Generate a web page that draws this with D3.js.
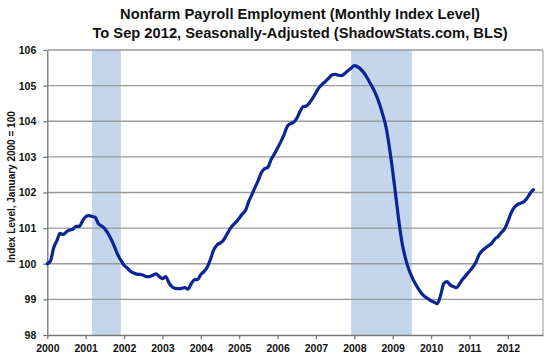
<!DOCTYPE html>
<html>
<head>
  <meta charset="utf-8">
  <script src="https://d3js.org/d3.v7.min.js"></script>
  <style>
    body { margin: 0; background: #fff; }
    text { font-family: "Liberation Sans", Arial, sans-serif; font-weight: bold; }
  </style>
</head>
<body>
  <div id="my_dataviz"></div>
  <script>
    // Monthly index, Jan 2000 .. Sep 2012 (Jan 2000 = 100)
    var values = [
      100.00, 100.08, 100.45, 100.65, 100.85, 100.82, 100.90, 100.95, 100.97, 101.05, 101.05, 101.20,
      101.32, 101.35, 101.33, 101.30, 101.12, 101.06, 100.98, 100.85, 100.68, 100.48, 100.26, 100.10,
      99.96, 99.88, 99.79, 99.74, 99.71, 99.70, 99.68, 99.64, 99.64, 99.68, 99.72, 99.64,
      99.58, 99.64, 99.47, 99.35, 99.31, 99.30, 99.31, 99.33, 99.29, 99.44, 99.55, 99.56,
      99.70, 99.78, 99.90, 100.12, 100.38, 100.52, 100.58, 100.65, 100.80, 100.96, 101.08, 101.17,
      101.28, 101.40, 101.50, 101.75, 101.95, 102.15, 102.35, 102.57, 102.67, 102.71, 102.93, 103.08,
      103.25, 103.42, 103.62, 103.85, 103.93, 103.97, 104.08, 104.27, 104.41, 104.43, 104.52, 104.65,
      104.80, 104.95, 105.04, 105.12, 105.21, 105.30, 105.32, 105.29, 105.28, 105.34, 105.42, 105.49,
      105.56, 105.53, 105.46, 105.36, 105.22, 105.06, 104.90, 104.70, 104.45, 104.15, 103.80, 103.25,
      102.60, 101.88, 101.15, 100.55, 100.15, 99.85, 99.63, 99.45, 99.30, 99.17, 99.08, 99.02,
      98.96, 98.92, 98.88, 99.12, 99.45, 99.50, 99.40, 99.36, 99.33, 99.45, 99.58, 99.68,
      99.79, 99.90, 100.04, 100.25, 100.37, 100.44, 100.51, 100.58, 100.70, 100.77, 100.88, 100.98,
      101.18, 101.42, 101.58, 101.66, 101.70, 101.74, 101.84, 101.98, 102.08
    ];
    var startYear = 2000;
    var years = [2000, 2001, 2002, 2003, 2004, 2005, 2006, 2007, 2008, 2009, 2010, 2011, 2012];
    var yTicks = [98, 99, 100, 101, 102, 103, 104, 105, 106];
    // recessions as [first month, month after last], months since Jan 2000
    var recessionStart = [14, 95];
    var recessionEnd = [23, 114];
    var titleLines = [
      "Nonfarm Payroll Employment (Monthly Index Level)",
      "To Sep 2012, Seasonally-Adjusted (ShadowStats.com, BLS)"
    ];
    var yLabel = "Index Level, January 2000 = 100";

    var W = 552, H = 359;
    var margin = { top: 50, right: 9, bottom: 24, left: 47.3 };
    var width = W - margin.left - margin.right,
        height = H - margin.top - margin.bottom;

    var root = d3.select("#my_dataviz").append("svg")
      .attr("width", W).attr("height", H);

    // Title
    root.selectAll(".title").data(titleLines).enter().append("text")
      .attr("x", 300)
      .attr("y", function(d, i) { return 18.5 + i * 19; })
      .style("text-anchor", "middle")
      .style("font-size", "14.7px")
      .style("fill", "#111")
      .text(function(d) { return d; });

    var svg = root.append("g")
      .attr("transform", "translate(" + margin.left + "," + margin.top + ")");

    var x = d3.scaleLinear().domain([0, 155]).range([0, width]);
    var y = d3.scaleLinear().domain([98, 106]).range([height, 0]);

    // Recession bars
    svg.selectAll(".rec").data(recessionStart).enter().append("rect")
      .attr("x", function(d) { return x(d); })
      .attr("width", function(d, i) { return x(recessionEnd[i]) - x(d); })
      .attr("y", 0)
      .attr("height", height)
      .style("fill", "#c4d6eb");

    // Gridlines
    svg.append("g").selectAll("line").data(yTicks.slice(1)).enter().append("line")
      .attr("x1", 0).attr("x2", width)
      .attr("y1", function(d) { return y(d); })
      .attr("y2", function(d) { return y(d); })
      .style("stroke", "#9a9a9a")
      .style("stroke-width", 1.3);

    // right border
    svg.append("line")
      .attr("x1", width).attr("x2", width).attr("y1", 0).attr("y2", height)
      .style("stroke", "#b0b0b0").style("stroke-width", 1.3);

    // X axis
    var xAxis = svg.append("g")
      .attr("transform", "translate(0," + height + ")")
      .call(d3.axisBottom(x)
        .tickValues(years.map(function(d) { return (d - startYear) * 12; }))
        .tickFormat(function(d) { return startYear + d / 12; })
        .tickSizeInner(4).tickSizeOuter(0).tickPadding(6));
    xAxis.selectAll("text").style("font-size", "10.5px").style("fill", "#111");
    xAxis.selectAll("line, path").style("stroke", "#777").style("stroke-width", 1.3);

    // Y axis
    var yAxis = svg.append("g")
      .call(d3.axisLeft(y).tickValues(yTicks).tickFormat(d3.format("d"))
        .tickSizeInner(4).tickSizeOuter(0).tickPadding(7));
    yAxis.selectAll("text").style("font-size", "10.5px").style("fill", "#111");
    yAxis.selectAll("line, path").style("stroke", "#777").style("stroke-width", 1.3);

    // Y label
    root.append("text")
      .attr("transform", "translate(14.5," + 187 + ") rotate(-90)")
      .style("text-anchor", "middle")
      .style("font-size", "10px")
      .style("fill", "#111")
      .text(yLabel);

    // Line
    var line = d3.line()
      .x(function(d, i) { return x(i); })
      .y(function(d) { return y(d); })
      .curve(d3.curveMonotoneX);

    svg.append("path")
      .datum(values)
      .attr("d", line)
      .style("fill", "none")
      .style("stroke", "#0b2597")
      .style("stroke-width", 3.2)
      .style("stroke-linejoin", "round")
      .style("stroke-linecap", "round");
  </script>
</body>
</html>
